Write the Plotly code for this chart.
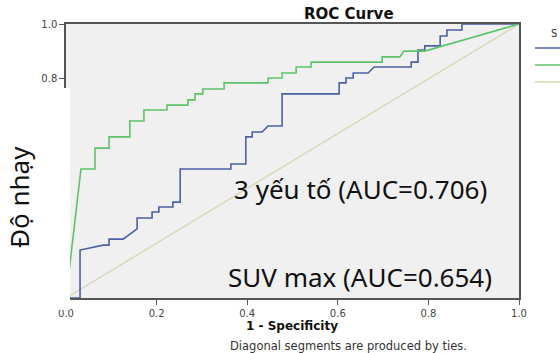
import plotly.graph_objects as go

# ---- data ----
fpr_3yt = [0.0, 0.033, 0.064, 0.064, 0.095, 0.095, 0.141, 0.141, 0.172, 0.172, 0.223, 0.223,
           0.269, 0.269, 0.285, 0.285, 0.302, 0.302, 0.349, 0.349, 0.446, 0.446, 0.477, 0.477,
           0.508, 0.508, 0.541, 0.541, 0.698, 0.698, 0.737, 0.746, 0.792, 1.0]
tpr_3yt = [0.0, 0.471, 0.471, 0.547, 0.547, 0.588, 0.588, 0.646, 0.646, 0.686, 0.686, 0.704,
           0.704, 0.723, 0.723, 0.745, 0.745, 0.763, 0.763, 0.785, 0.785, 0.803, 0.803, 0.821,
           0.821, 0.843, 0.843, 0.861, 0.861, 0.880, 0.880, 0.901, 0.901, 1.0]

fpr_suv = [0.0, 0.031, 0.031, 0.082, 0.095, 0.095, 0.126, 0.157, 0.157, 0.190, 0.190, 0.205,
           0.205, 0.236, 0.236, 0.252, 0.252, 0.364, 0.364, 0.397, 0.397, 0.411, 0.411, 0.433,
           0.446, 0.477, 0.477, 0.603, 0.603, 0.618, 0.618, 0.634, 0.634, 0.667, 0.680, 0.762,
           0.762, 0.777, 0.777, 0.792, 0.792, 0.826, 0.826, 0.841, 0.841, 0.874, 0.874, 1.0]
tpr_suv = [0.0, 0.0, 0.175, 0.193, 0.193, 0.215, 0.215, 0.252, 0.292, 0.292, 0.314, 0.314,
           0.332, 0.332, 0.350, 0.350, 0.471, 0.471, 0.489, 0.489, 0.588, 0.588, 0.606, 0.606,
           0.628, 0.628, 0.745, 0.745, 0.785, 0.785, 0.803, 0.803, 0.821, 0.821, 0.843, 0.843,
           0.861, 0.861, 0.905, 0.905, 0.920, 0.920, 0.956, 0.956, 0.978, 0.978, 1.0, 1.0]

ref_x = [0.0, 1.0]
ref_y = [0.0, 1.0]

tick_vals = [0.0, 0.2, 0.4, 0.6, 0.8, 1.0]
tick_text = ["0.0", "0.2", "0.4", "0.6", "0.8", "1.0"]

label_3yt = "3 yếu tố (AUC=0.706)"
label_suv = "SUV max (AUC=0.654)"

BLUE = "#4d5fa6"
GREEN = "#5cc468"
TAN = "#d9d4b4"

fig = go.Figure()
fig.add_trace(go.Scatter(x=ref_x, y=ref_y, mode="lines", line=dict(color=TAN, width=1.3),
                         showlegend=False, hoverinfo="skip"))
fig.add_trace(go.Scatter(x=fpr_suv, y=tpr_suv, mode="lines", line=dict(color=BLUE, width=1.6),
                         showlegend=False))
fig.add_trace(go.Scatter(x=fpr_3yt, y=tpr_3yt, mode="lines", line=dict(color=GREEN, width=1.6),
                         showlegend=False))

W, H = 560, 353
L, R, T, B = 66, 41, 24, 55
pw, ph = W - L - R, H - T - B


def px(xp):
    return (xp - L) / pw


def py(yp):
    return (H - B - yp) / ph


axis_common = dict(range=[0, 1], tickvals=tick_vals, ticktext=tick_text, showgrid=False,
                   zeroline=False, showline=True, mirror=True, linecolor="#555555",
                   linewidth=1.5, ticks="outside", ticklen=5, tickcolor="#555555",
                   tickfont=dict(family="DejaVu Sans", size=10, color="#444444"))
fig.update_xaxes(**axis_common)
fig.update_yaxes(**axis_common)

shapes = [
    # white overlay on lower-left
    dict(type="rect", xref="paper", yref="paper", x0=px(-20), x1=px(70), y0=py(310), y1=py(88),
         fillcolor="white", line=dict(width=0), layer="above"),
    # legend samples (cut off at right edge)
    dict(type="line", xref="paper", yref="paper", x0=px(535), x1=px(575), y0=py(48), y1=py(48),
         line=dict(color=BLUE, width=1.6), layer="above"),
    dict(type="line", xref="paper", yref="paper", x0=px(535), x1=px(575), y0=py(65), y1=py(65),
         line=dict(color=GREEN, width=1.6), layer="above"),
    dict(type="line", xref="paper", yref="paper", x0=px(535), x1=px(575), y0=py(82), y1=py(82),
         line=dict(color=TAN, width=1.6), layer="above"),
]


def ann(text, x, y, size, family="DejaVu Sans", color="#111111", angle=0, xanchor="center"):
    return dict(text=text, x=px(x), y=py(y), xref="paper", yref="paper", showarrow=False,
                xanchor=xanchor, yanchor="middle", textangle=angle,
                font=dict(family=family, size=size, color=color))


annotations = [
    ann("<b>ROC Curve</b>", 349, 14, 15),
    ann("<b>1 - Specificity</b>", 292, 326, 12),
    ann("Diagonal segments are produced by ties.", 348, 346, 11.5, color="#333333"),
    ann("S", 549, 33, 10, color="#333333", xanchor="left"),
    ann(label_3yt, 360, 189, 26, family="Noto Sans"),
    ann(label_suv, 360, 277, 26, family="Noto Sans"),
    ann("Độ nhạy", 19, 197, 26, family="Noto Sans", angle=-90),
]

fig.update_layout(
    width=W, height=H,
    margin=dict(l=L, r=R, t=T, b=B),
    paper_bgcolor="white",
    plot_bgcolor="#f0f0f0",
    shapes=shapes,
    annotations=annotations,
    showlegend=False,
)

fig.write_html("out.html", config={"displayModeBar": False},
               post_script="document.body.style.margin='0px';document.body.style.overflow='hidden';")
